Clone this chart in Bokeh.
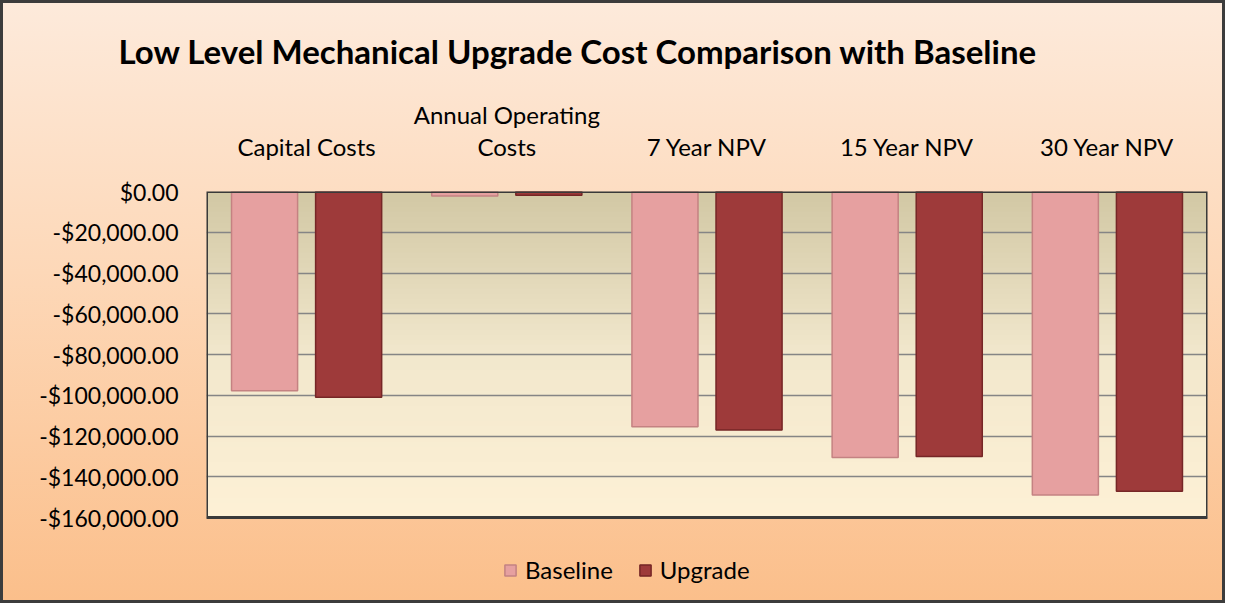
import numpy as np
from bokeh.plotting import figure
from bokeh.models import (FactorRange, Range1d, FixedTicker, NumeralTickFormatter,
                          Legend, LegendItem, Title, BoxAnnotation)
from bokeh.transform import dodge
from bokeh.embed import file_html
from bokeh.resources import INLINE

# ---- data ----
categories = ["Capital Costs", "Annual Operating\nCosts", "7 Year NPV", "15 Year NPV", "30 Year NPV"]
baseline = [-97800, -2200, -115500, -130500, -148900]
upgrade = [-101000, -1900, -117100, -130100, -147100]
y_ticks = [0, -20000, -40000, -60000, -80000, -100000, -120000, -140000, -160000]
series_names = ["Baseline", "Upgrade"]
title_text = "Low Level Mechanical Upgrade Cost Comparison with Baseline"

FONT = "Lato"
W, H = 1225, 603
TOP, BOTTOM = 188, 10
PLOT_H = 326                      # pixel height of the value area
FRAME_H = H - TOP - BOTTOM
y_lo = y_ticks[-1] * FRAME_H / PLOT_H   # frame extends below the value area for the legend

p = figure(width=W, height=H, output_backend="svg", toolbar_location=None,
           x_range=FactorRange(*categories, range_padding=0),
           y_range=Range1d(y_lo, 0),
           x_axis_location="above",
           min_border_left=203, min_border_right=21, min_border_top=TOP, min_border_bottom=BOTTOM)
p.title = Title(text=title_text, text_font=FONT, text_font_size="33px", text_font_style="bold",
                text_color="#000000", align="left", offset=-88, standoff=51)

p.border_fill_alpha = 0
p.background_fill_alpha = 0
p.outline_line_color = None
p.styles = {"background": "linear-gradient(to bottom, #fdeadb 0%, #fdd8b8 45%, #fbbf8b 100%)",
            "border": "3px solid #3c3c3c"}

# plot area gradient
N = 64
img = np.empty((N, 1), dtype=np.uint32)
view = img.view(dtype=np.uint8).reshape((N, 1, 4))
top_c = np.array([211, 201, 165])
mid_c = np.array([242, 232, 205])
bot_c = np.array([254, 241, 214])
for i in range(N):
    t = i / (N - 1)  # 0 bottom -> 1 top
    if t < 0.5:
        c = bot_c + (mid_c - bot_c) * (t / 0.5)
    else:
        c = mid_c + (top_c - mid_c) * ((t - 0.5) / 0.5)
    view[i, 0, 0:3] = c.astype(np.uint8)
    view[i, 0, 3] = 255
p.image_rgba(image=[img], x=0, y=y_ticks[-1], dw=len(categories), dh=-y_ticks[-1], level="image")

# plot area border
p.add_layout(BoxAnnotation(top=y_ticks[0], bottom=y_ticks[-1], fill_alpha=0,
                           line_color="#3a3a3a", line_alpha=1.0, line_width=3, level="overlay"))

# bars
src = dict(cat=categories, base=baseline, upg=upgrade, zero=[0] * len(categories))
r1 = p.vbar(x=dodge("cat", -0.21, range=p.x_range), top="zero", bottom="base", width=0.33,
            source=src, fill_color="#e6a0a0", line_color="#c48282", line_width=1.5)
r2 = p.vbar(x=dodge("cat", 0.21, range=p.x_range), top="zero", bottom="upg", width=0.33,
            source=src, fill_color="#9e3a3a", line_color="#762626", line_width=1.5)

# axes
xa = p.xaxis[0]
xa.axis_line_color = None
xa.major_tick_line_color = None
xa.minor_tick_line_color = None
xa.major_label_text_font = FONT
xa.major_label_text_font_size = "24px"
xa.major_label_text_color = "#000000"
xa.major_label_text_line_height = 1.1
xa.major_label_standoff = 25

ya = p.yaxis[0]
ya.ticker = FixedTicker(ticks=y_ticks)
ya.formatter = NumeralTickFormatter(format="$0,0.00")
ya.axis_line_color = None
ya.major_tick_line_color = None
ya.minor_tick_line_color = None
ya.major_label_text_font = FONT
ya.major_label_text_font_size = "23px"
ya.major_label_text_color = "#000000"
ya.major_label_standoff = 22

p.xgrid.grid_line_color = None
p.ygrid.ticker = FixedTicker(ticks=y_ticks)
p.ygrid.grid_line_color = "#858585"
p.ygrid.grid_line_width = 1.5

legend = Legend(items=[LegendItem(label=series_names[0], renderers=[r1]),
                       LegendItem(label=series_names[1], renderers=[r2])],
                location=(297, 12), orientation="horizontal",
                background_fill_alpha=0, border_line_color=None,
                padding=0, margin=0, spacing=25, label_standoff=8,
                glyph_width=14, glyph_height=14,
                label_text_font=FONT, label_text_font_size="24px", label_text_color="#000000")
p.add_layout(legend, "center")

open("out.html", "w").write(file_html(p, INLINE))
